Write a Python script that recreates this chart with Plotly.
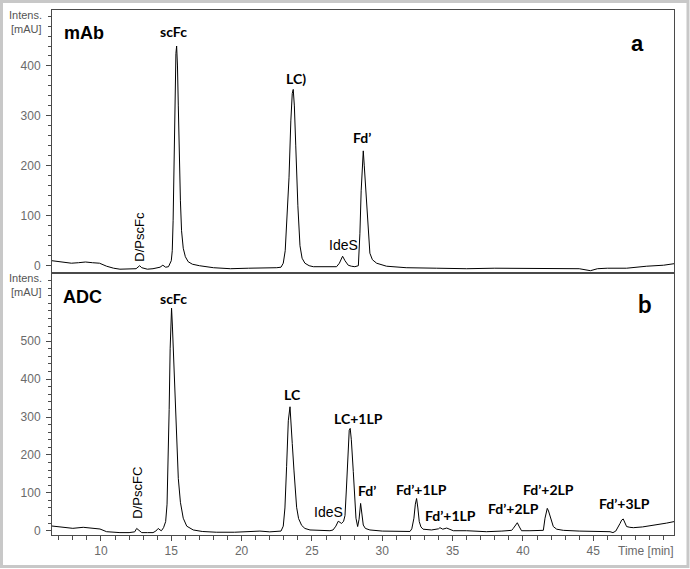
import plotly.graph_objects as go

# ---------------- data ----------------
# mAb chromatogram (panel a)
mab_time = [6.52, 7.2, 7.9, 8.4, 8.9, 9.4, 9.9, 10.4, 10.9, 11.35, 12.0, 12.5, 12.75, 12.9, 13.3, 13.7,
            14.2, 14.4, 14.6, 14.8, 15.0, 15.07, 15.13, 15.19, 15.27, 15.33, 15.38, 15.44, 15.5, 15.57,
            15.65, 15.73, 15.85, 16.0, 16.2, 16.5, 17.0, 18.0, 19.2, 20.5, 21.5, 22.5, 22.8, 22.96, 23.1,
            23.25, 23.37, 23.5, 23.6, 23.67, 23.75, 23.85, 23.91, 24.0, 24.15, 24.3, 24.5, 24.8, 25.1,
            26.0, 26.75, 26.95, 27.18, 27.35, 27.58, 27.8, 28.05, 28.3, 28.41, 28.5, 28.58, 28.65, 28.72,
            28.8, 28.89, 29.0, 29.12, 29.3, 29.6, 30.3, 31.7, 33.87, 36.0, 38.0, 40.0, 42.0, 44.0, 44.8,
            45.3, 46.0, 47.37, 48.8, 50.0, 50.74]
mab_signal = [10, 8, 5, 6, 7.4, 6, 5, -1, -5, -7, -7, -6, 0, -4, -7, -6,
              -3, 1, -3, -2, 10, 30, 90, 220, 360, 425, 440, 400, 320, 220,
              130, 70, 35, 18, 8, 3, 0, -4, -6, -5, -5, -4, -3, 5, 30,
              100, 176, 290, 345, 353, 320, 240, 190, 120, 40, 15, 5, 0, -2,
              -2, -2, 5, 19, 10, 1, -1, -2, 0, 65, 150, 210, 230, 200,
              160, 118, 65, 25, 12, 5, -1, -4, -5, -6, -5, -5, -5, -6, -10,
              -6, -5, -5, -1, 1, 4]

# ADC chromatogram (panel b)
adc_time = [6.52, 7.2, 8.0, 8.74, 9.3, 9.93, 10.4, 10.9, 11.35, 12.0, 12.4, 12.54, 12.65, 12.9, 13.3,
            13.7, 13.9, 14.07, 14.2, 14.3, 14.45, 14.6, 14.7, 14.78, 14.85, 14.92, 14.98, 15.02, 15.08,
            15.15, 15.26, 15.38, 15.5, 15.65, 15.85, 16.1, 16.56, 17.2, 18.2, 19.5, 21.0, 21.3, 22.0,
            22.8, 22.96, 23.08, 23.2, 23.32, 23.44, 23.52, 23.6, 23.72, 23.82, 23.91, 24.05, 24.27,
            24.5, 24.86, 26.28, 26.5, 26.7, 26.87, 27.0, 27.1, 27.25, 27.35, 27.45, 27.55, 27.65, 27.72,
            27.8, 27.94, 28.05, 28.13, 28.25, 28.35, 28.46, 28.55, 28.65, 28.8, 29.12, 30.0, 31.0,
            31.97, 32.1, 32.25, 32.35, 32.44, 32.53, 32.63, 32.75, 32.9, 33.5, 34.0, 34.1, 34.3, 34.58,
            34.8, 35.05, 36.0, 37.4, 38.5, 39.2, 39.31, 39.45, 39.6, 39.75, 39.9, 40.5, 41.45, 41.57,
            41.65, 41.73, 41.82, 41.92, 42.05, 42.16, 42.4, 42.87, 44.0, 45.0, 46.19, 46.4, 46.6, 46.9,
            47.02, 47.13, 47.25, 47.37, 47.6, 47.85, 48.5, 49.5, 50.2, 50.74]
adc_signal = [12.4, 9, 6.3, 9, 7, 4.5, -2.6, -4, -5, -5, -3, 6, 3, -5, -5,
              -5, -1, 6, 2, 0, 8, 24, 70, 173, 320, 480, 570, 587, 540,
              470, 349, 230, 138, 75, 33, 12, 2, -2, -4, -4, -3, -1, -3,
              -1, 12, 60, 170, 290, 327, 290, 230, 160, 100, 62, 32, 14,
              6, 2, 0, 2, 12, 25, 22, 19, 25, 40, 110, 210, 265, 270,
              240, 156, 70, 33, 11, 30, 72, 45, 15, 6, 2, -1, -2,
              -2, 5, 33, 70, 85, 60, 24, 10, 4, 2, 5, 8, 4, 7,
              3, 0, 0, -2.6, -1, 1, 6, 15, 21, 10, 0, 0, 1, 33,
              52, 59, 52, 41, 22, 11, 4, 1, -1, -2, -2.6, -5, -1, 19,
              28, 31, 22, 11, 9, 8, 10, 15, 20, 24]

# axis ticks
x_ticks = [10, 15, 20, 25, 30, 35, 40, 45]
y_ticks_a = [0, 100, 200, 300, 400]
y_ticks_b = [0, 100, 200, 300, 400, 500]

# peak labels: (text, time, intensity, bold)
labels_a = [("scFc", 15.19, 470, True), ("LC)", 23.84, 374, True), ("Fd’", 28.53, 256, True),
            ("IdeS", 27.22, 41, False)]
labels_b = [("scFc", 15.14, 613, True), ("LC", 23.63, 360, True), ("LC+1LP", 28.29, 297, True),
            ("IdeS", 26.16, 50, False), ("Fd’", 28.93, 105, True), ("Fd’+1LP", 32.8, 110, True),
            ("Fd’+1LP", 34.88, 41, True), ("Fd’+2LP", 39.31, 59, True), ("Fd’+2LP", 41.8, 109, True),
            ("Fd’+3LP", 47.25, 72, True)]

# ---------------- figure ----------------
AX = "#4a4a4a"
TICKC = "#6a6a6a"
BOLD = "Lato"
SANS = "Liberation Sans, Arial, sans-serif"

fig = go.Figure()
fig.add_trace(go.Scatter(x=mab_time, y=mab_signal, mode="lines", xaxis="x", yaxis="y",
                         line=dict(color="black", width=1), showlegend=False, hoverinfo="skip"))
fig.add_trace(go.Scatter(x=adc_time, y=adc_signal, mode="lines", xaxis="x2", yaxis="y2",
                         line=dict(color="black", width=1), showlegend=False, hoverinfo="skip"))

xr = [6.52, 50.74]
common_y = dict(showline=True, linecolor=AX, linewidth=1, mirror=True, ticks="outside", ticklen=5,
                tickcolor=AX, tickfont=dict(family=SANS, size=12, color=TICKC), showgrid=False,
                zeroline=False, tickmode="array", ticklabelstandoff=3)

fig.update_layout(
    width=690, height=569,
    margin=dict(l=52, r=16, t=10, b=34),
    paper_bgcolor="white", plot_bgcolor="white",
    xaxis=dict(domain=[0, 1], anchor="y", range=xr, showline=True, linecolor=AX, linewidth=1,
               mirror=True, showticklabels=False, ticks="", showgrid=False, zeroline=False),
    yaxis=dict(domain=[0.50095, 1], anchor="x", range=[-12.6, 512.1], tickvals=y_ticks_a,
               minor=dict(tickmode="linear", tick0=0, dtick=20, ticks="outside", ticklen=3,
                          tickcolor=AX),
               **common_y),
    xaxis2=dict(domain=[0, 1], anchor="y2", range=xr, showline=True, linecolor=AX, linewidth=1,
                mirror=True, ticks="outside", ticklen=5, tickcolor=AX, tickmode="array",
                tickvals=x_ticks, tickfont=dict(family=SANS, size=12, color=TICKC),
                minor=dict(tickmode="linear", tick0=0, dtick=1, ticks="outside", ticklen=4,
                           tickcolor=AX),
                showgrid=False, zeroline=False),
    yaxis2=dict(domain=[0, 0.49714], anchor="x2", range=[-11.3, 677.3], tickvals=y_ticks_b,
                minor=dict(tickmode="linear", tick0=0, dtick=20, ticks="outside", ticklen=3,
                           tickcolor=AX),
                **common_y),
)

ann = []
for text, t, v, bold in labels_a:
    ann.append(dict(x=t, y=v, xref="x", yref="y", text=f"<b>{text}</b>" if bold else text,
                    showarrow=False, font=dict(family=BOLD if bold else SANS, size=14, color="black")))
for text, t, v, bold in labels_b:
    ann.append(dict(x=t, y=v, xref="x2", yref="y2", text=f"<b>{text}</b>" if bold else text,
                    showarrow=False, font=dict(family=BOLD if bold else SANS, size=14, color="black")))
# rotated minor-peak labels
ann.append(dict(x=12.77, y=58, xref="x", yref="y", text="D/PscFc", textangle=-90, showarrow=False,
                font=dict(family=SANS, size=13, color="black")))
ann.append(dict(x=12.54, y=99.5, xref="x2", yref="y2", text="D/PscFC", textangle=-90, showarrow=False,
                font=dict(family=SANS, size=13, color="black")))
# panel titles and letters
ann.append(dict(x=7.23, y=466, xref="x", yref="y", text="<b>mAb</b>", xanchor="left", showarrow=False,
                font=dict(family=SANS, size=18, color="black")))
ann.append(dict(x=7.16, y=616, xref="x2", yref="y2", text="<b>ADC</b>", xanchor="left", showarrow=False,
                font=dict(family=SANS, size=18, color="black")))
ann.append(dict(x=48.18, y=445, xref="x", yref="y", text="<b>a</b>", showarrow=False,
                font=dict(family=SANS, size=22, color="black")))
ann.append(dict(x=48.68, y=600, xref="x2", yref="y2", text="<b>b</b>", showarrow=False,
                font=dict(family=BOLD, size=24, color="black")))
# axis titles
for yy, txt in [(0.9905, "Intens."), (0.9638, "[mAU]"), (0.489, "Intens."), (0.4634, "[mAU]")]:
    ann.append(dict(x=-0.0129, y=yy, xref="paper", yref="paper", text=txt, xanchor="right",
                    yanchor="middle", showarrow=False, font=dict(family=SANS, size=11, color="#555555")))
ann.append(dict(x=1.004, y=-0.0299, xref="paper", yref="paper", text="Time [min]", xanchor="right",
                yanchor="middle", showarrow=False, font=dict(family=SANS, size=12, color=TICKC)))
fig.update_layout(annotations=ann)

# light grey outer frame of the figure
fig.add_shape(type="rect", xref="paper", yref="paper", x0=-0.0812, x1=1.0225, y0=-0.0602, y1=1.0162,
              line=dict(color="#c8c8c8", width=3), fillcolor="rgba(0,0,0,0)", layer="above")

fig.write_html("out.html", config={"displayModeBar": False},
               post_script="document.body.style.margin='0';")
